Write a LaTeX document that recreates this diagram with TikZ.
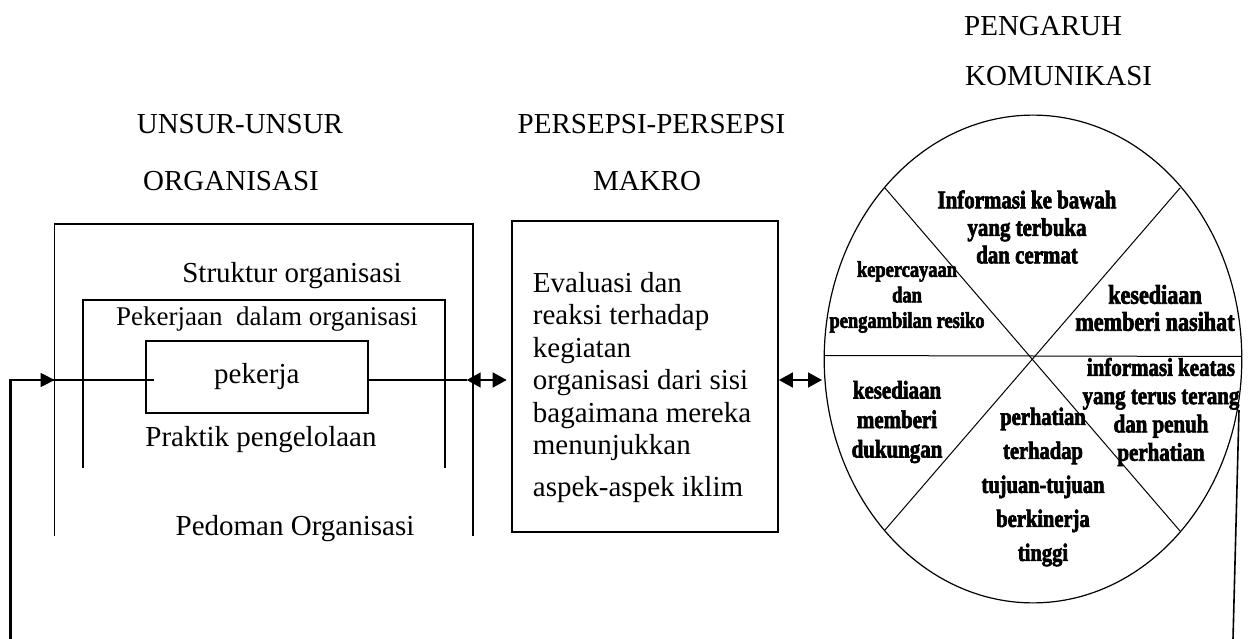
\documentclass[tikz,border=0pt]{standalone}
\usepackage{fontspec}
\setmainfont{Liberation Serif}
\newfontfamily\circfont[FakeBold=2.5,FakeStretch=0.82]{Liberation Serif Bold}
\usetikzlibrary{shapes.geometric,arrows.meta}
\begin{document}
\begin{tikzpicture}[x=1pt,y=-1pt,
  lbl/.style={font=\fontsize{29}{32.5}\selectfont, inner sep=0pt},
  small/.style={font=\fontsize{27}{30}\selectfont, inner sep=0pt},
  ctext/.style={font=\circfont\fontsize{25.5}{27}\selectfont, align=center, inner sep=0pt},
  frame/.style={line width=1.7pt},
  conn/.style={line width=1.6pt},
  tipR/.style={-{Triangle[length=14pt,width=14pt]}},
  dbl/.style={{Triangle[length=14pt,width=15pt]}-{Triangle[length=14pt,width=15pt]}},
]
\useasboundingbox (0,0) rectangle (1251,639);

% headings
\node[lbl] (h1) at (240,124) {UNSUR-UNSUR};
\node[lbl] (h2) at (231,181) {ORGANISASI};
\node[lbl] (h3) at (651.5,124) {PERSEPSI-PERSEPSI};
\node[lbl] (h4) at (647,181) {MAKRO};
\node[lbl,anchor=west] (h5) at (964,26) {PENGARUH};
\node[lbl,anchor=west] (h6) at (965,76) {KOMUNIKASI};

% organisation frames (open at the bottom)
\draw[frame] (54.6,536) -- (54.6,224) -- (473,224) -- (473,536);
\draw[frame] (82.9,468) -- (82.9,300) -- (445,300) -- (445,468);
\node[lbl,anchor=base] (struk) at (292,283) {Struktur organisasi};
\node[small,anchor=base] (pekj) at (267,325) {Pekerjaan~ dalam organisasi};
\node[draw, frame, minimum width=222.2pt, minimum height=72pt, inner sep=0pt,
      lbl] (pekerja) at (256.8,376.7) {\raisebox{-3pt}{pekerja}};
\node[lbl,anchor=base] (prak) at (261,446.7) {Praktik pengelolaan};
\node[lbl,anchor=base] (pedo) at (295,535) {Pedoman Organisasi};

% evaluation box
\node[draw, frame, minimum width=266.3pt, minimum height=311.6pt, inner sep=0pt]
   (eval) at (644.85,376.5) {};
\node[lbl, anchor=north west, align=left] (evaltext) at (532.7,272)
   {Evaluasi dan\\reaksi terhadap\\kegiatan\\organisasi dari sisi\\bagaimana mereka\\menunjukkan\\[9pt]aspek-aspek iklim};

% communication circle
\node[draw, ellipse, line width=1.2pt, minimum width=417.6pt, minimum height=487.8pt, inner sep=0pt]
   (circ) at (1033,359) {};
\coordinate (sUL) at (885,188);
\coordinate (sUR) at (1180,188);
\coordinate (sLL) at (885,530);
\coordinate (sLR) at (1180,531);
\coordinate (hL) at (824.5,355.5);
\coordinate (hR) at (1241.5,356.5);
\draw[line width=1pt] (sUL) -- (sLR);
\draw[line width=1pt] (sUR) -- (sLL);
\draw[line width=1pt] (hL) -- (hR);

\node[ctext, font=\circfont\fontsize{25.5}{27.5}\selectfont] (c1) at (1027,227) {Informasi ke bawah\\yang terbuka\\dan cermat};
\node[ctext, font=\circfont\fontsize{22.5}{25.5}\selectfont] (c2) at (907,297) {kepercayaan\\dan\\pengambilan resiko};
\node[ctext, font=\circfont\fontsize{27}{27}\selectfont] (c3) at (1155,308) {kesediaan\\memberi nasihat};
\node[ctext, font=\circfont\fontsize{25.5}{28.3}\selectfont] (c4) at (1161,412) {informasi keatas\\yang terus terang\\dan penuh\\perhatian};
\node[ctext, font=\circfont\fontsize{25.5}{29.5}\selectfont] (c5) at (897,422) {kesediaan\\memberi\\dukungan};
\node[ctext, font=\circfont\fontsize{25}{34}\selectfont] (c6) at (1043,487) {perhatian\\terhadap\\tujuan-tujuan\\berkinerja\\tinggi};

% connectors
\coordinate (fbL0) at (10.7,639);
\coordinate (fbL1) at (10.7,380);
\coordinate (inL) at (54.6,380);
\coordinate (inEnd) at (154,380);
\draw[line width=2.6pt] (fbL0) -- (fbL1) -- (fbL1 -| inL);
\draw[conn,tipR] (fbL1) -- (inL);
\draw[conn] (inL) -- (inEnd);

\coordinate (da1) at (466.7,380);
\coordinate (da1e) at (506.7,380);
\draw[conn] (pekerja.east |- da1) -- (da1);
\draw[conn,dbl] (da1) -- (da1e);

\coordinate (da2s) at (eval.east |- da1);
\coordinate (da2e) at (822,380);
\draw[conn,dbl] (da2s) -- (da2e);

\coordinate (fbR0) at (1233,639);
\coordinate (fbR1) at (1239,410);
\draw[conn] (fbR0) -- (fbR1);
\end{tikzpicture}
\end{document}
